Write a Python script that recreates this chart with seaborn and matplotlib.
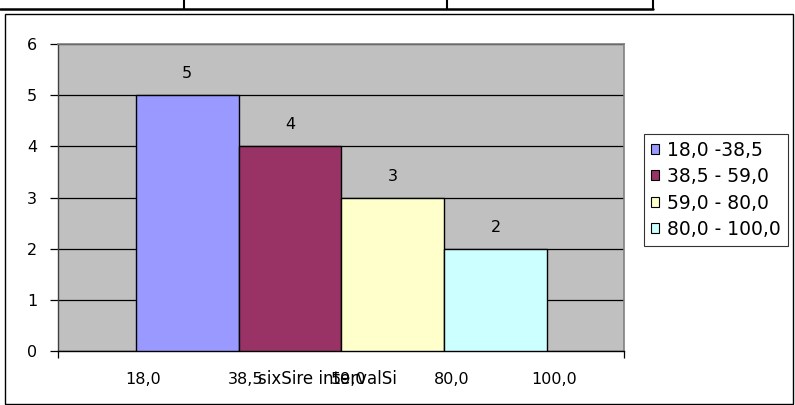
import matplotlib
matplotlib.use("Agg")
import matplotlib.pyplot as plt
from matplotlib.patches import Patch, Rectangle
from matplotlib.lines import Line2D
import numpy as np
import pandas as pd
import seaborn as sns

# data
intervals = ["18,0 -38,5", "38,5 - 59,0", "59,0 - 80,0", "80,0 - 100,0"]
counts = [5, 4, 3, 2]
edge_labels = ["18,0", "38,5", "59,0", "80,0", "100,0"]
bar_colors = ["#9999FF", "#993366", "#FFFFCC", "#CCFFFF"]
x_title = "sixSire intervalSi"

sns.set_theme(style="white")
plt.rcParams["font.family"] = ["DejaVu Sans"]
plt.rcParams["text.color"] = "black"

FS = 11.5
LFS = 13.5
W, H = 795, 405
fig = plt.figure(figsize=(W / 100, H / 100), dpi=100)
fig.patch.set_facecolor("white")

L, R, T, B = 58, 624, 44, 351
ax = fig.add_axes([L / W, 1 - B / H, (R - L) / W, (B - T) / H])
ax.set_facecolor("#C0C0C0")

df = pd.DataFrame({"interval": intervals, "count": counts})
sns.barplot(data=df, x="interval", y="count", hue="interval", palette=bar_colors,
            saturation=1, width=1.0, edgecolor="black", linewidth=1.0,
            legend=False, ax=ax, zorder=3)

for c in ax.containers:
    ax.bar_label(c, padding=10, fontsize=FS, color="black")

ax.set_ylim(0, 6)
ax.set_xlim(-1.257, 4.248)
ax.set_yticks(range(0, 7))
ax.yaxis.grid(True, color="black", linewidth=0.9, zorder=0)
ax.set_axisbelow(True)
ax.tick_params(axis="y", length=6, width=0.9, color="black", direction="out",
               pad=9, labelsize=FS, labelcolor="black", left=True)

pos = np.arange(len(edge_labels)) - 0.5 + 0.07
ax.set_xticks(pos, edge_labels)
ax.tick_params(axis="x", length=0, pad=15, labelsize=FS, labelcolor="black")
ax.set_xticks([-1.257, 4.248], minor=True)
ax.tick_params(axis="x", which="minor", length=5, width=0.9, color="black",
               direction="out", bottom=True)

ax.set_ylabel("")
ax.set_xlabel(x_title, fontsize=FS + 0.5, color="black", va="center")
ax.xaxis.set_label_coords((327 - L) / (R - L), -(379 - B) / (B - T))

for s in ["top", "right"]:
    ax.spines[s].set_color("#808080")
    ax.spines[s].set_linewidth(1.2)
ax.spines["left"].set_color("#404040")
ax.spines["bottom"].set_color("black")
ax.spines["left"].set_linewidth(1.0)
ax.spines["bottom"].set_linewidth(1.0)

handles = [Patch(facecolor=c, edgecolor="black", linewidth=0.8) for c in bar_colors]
leg = fig.legend(handles, intervals, loc="upper left",
                 bbox_to_anchor=(644 / W, 1 - 134 / H), frameon=True,
                 fancybox=False, fontsize=LFS, handlelength=0.45,
                 handleheight=0.45, handletextpad=0.45, labelspacing=0.4,
                 borderpad=0.35, borderaxespad=0, labelcolor="black")
leg.get_frame().set_edgecolor("black")
leg.get_frame().set_linewidth(0.8)

# outer chart frame
fig.add_artist(Rectangle((5 / W, 1 / H), (793 - 5) / W, (404 - 13 - 1) / H,
                         transform=fig.transFigure, fill=False,
                         edgecolor="black", linewidth=1.0))
# fragment of table above
fig.add_artist(Line2D([0, 653 / W], [1 - 9 / H, 1 - 9 / H],
                      transform=fig.transFigure, color="black", linewidth=1.8))
for xv in [184, 447, 653]:
    fig.add_artist(Line2D([xv / W, xv / W], [1 - 9 / H, 1], transform=fig.transFigure,
                          color="black", linewidth=1.5))

fig.savefig("out.png", dpi=100)
